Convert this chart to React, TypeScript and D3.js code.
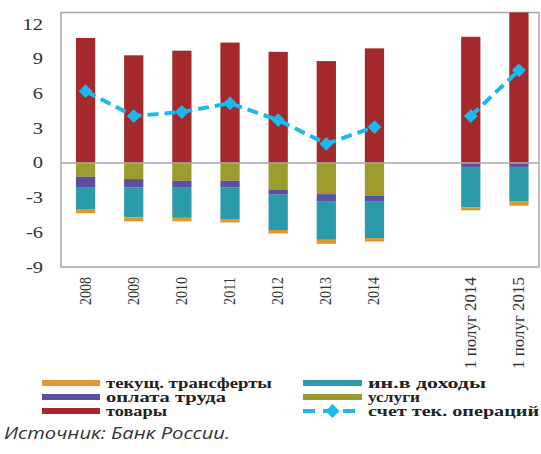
import React from "react";
import * as d3 from "d3";

const categories = ["2008", "2009", "2010", "2011", "2012", "2013", "2014", "", "1 полуг 2014", "1 полуг 2015"];
const goods = [10.8, 9.3, 9.7, 10.4, 9.6, 8.8, 9.9, 0, 10.9, 13.5];
const services = [-1.2, -1.4, -1.55, -1.55, -2.3, -2.7, -2.85, 0, 0, 0];
const labor = [-0.95, -0.7, -0.6, -0.55, -0.45, -0.6, -0.45, 0, -0.35, -0.35];
const invIncome = [-1.9, -2.6, -2.6, -2.75, -3.05, -3.35, -3.2, 0, -3.5, -2.95];
const transfers = [-0.3, -0.35, -0.3, -0.3, -0.3, -0.35, -0.3, 0, -0.25, -0.4];
const currentAccount: (number | null)[] = [6.2, 4.05, 4.4, 5.15, 3.7, 1.65, 3.1, null, 4.05, 8.0];
const yTicks = [12, 9, 6, 3, 0, -3, -6, -9];

const seriesKeys = ["goods", "services", "labor", "invIncome", "transfers"];
const colors: Record<string, string> = {
  goods: "#a3292b",
  services: "#9b9c2b",
  labor: "#5a4fa0",
  invIncome: "#2b9aab",
  transfers: "#e8942c",
};
const lineColor = "#1cb8ee";

const legendLeft = [
  { key: "transfers", label: "текущ. трансферты", len: 166 },
  { key: "labor", label: "оплата труда", len: 120 },
  { key: "goods", label: "товары", len: 61 },
];
const legendRight = [
  { key: "invIncome", label: "ин.в доходы", len: 118 },
  { key: "services", label: "услуги", len: 52 },
  { key: "line", label: "счет тек. операций", len: 171 },
];

export default function App() {
  const W = 541, H = 454;
  const plot = { left: 61, right: 539, top: 12.5, bottom: 267 };
  const x = d3.scaleBand<string>()
    .domain(categories.map((c, i) => c || "gap" + i))
    .range([61.5, 543])
    .paddingInner(0.6)
    .paddingOuter(0.3);
  const y = d3.scaleLinear().domain([-9, 13]).range([plot.bottom, plot.top]);

  const rows = categories.map((c, i) => ({
    cat: c || "gap" + i,
    goods: goods[i],
    services: services[i],
    labor: labor[i],
    invIncome: invIncome[i],
    transfers: transfers[i],
  }));
  const stack = d3.stack<any>().keys(seriesKeys).offset(d3.stackOffsetDiverging);
  const stacked = stack(rows);

  const line = d3.line<number | null>()
    .defined((d) => d !== null)
    .x((d, i) => (x(rows[i].cat) as number) + x.bandwidth() / 2)
    .y((d) => y(d as number));

  const marker = d3.symbol().type(d3.symbolSquare).size(95)();
  const serif = "'Liberation Serif', 'Times New Roman', serif";

  return (
    <svg width={W} height={H} style={{ position: "absolute", left: 0, top: 0, background: "#fff" }}>
      <defs>
        <clipPath id="plotClip">
          <rect x={plot.left} y={plot.top} width={plot.right - plot.left} height={plot.bottom - plot.top} />
        </clipPath>
      </defs>
      <rect x={plot.left} y={plot.top} width={plot.right - plot.left} height={plot.bottom - plot.top}
        fill="none" stroke="#a9a9a9" strokeWidth={1.5} />
      {yTicks.map((t) => (
        <text key={t} transform={`translate(43,${y(t)}) scale(1.28,1)`} dy="0.35em" textAnchor="end"
          fontFamily={serif} fontSize={16} fill="#333">
          {t}
        </text>
      ))}
      <g clipPath="url(#plotClip)">
        {stacked.map((s) => (
          <g key={s.key} fill={colors[s.key]}>
            {s.map((d, i) => {
              if (!categories[i]) return null;
              const y0 = y(d[0]), y1 = y(d[1]);
              const h = Math.abs(y0 - y1);
              if (h < 0.01) return null;
              return <rect key={i} x={x(rows[i].cat)} width={x.bandwidth()} y={Math.min(y0, y1)} height={h} />;
            })}
          </g>
        ))}
        <line x1={plot.left} x2={plot.right} y1={y(0)} y2={y(0)} stroke="#a9a9a9" strokeWidth={1.5} />
        <path d={line(currentAccount) || ""} fill="none" stroke={lineColor} strokeWidth={4} strokeDasharray="11,6" />
        {currentAccount.map((v, i) =>
          v === null ? null : (
            <path key={i} d={marker || ""} fill={lineColor}
              transform={`translate(${(x(rows[i].cat) as number) + x.bandwidth() / 2},${y(v)}) rotate(45)`} />
          )
        )}
      </g>
      {categories.map((c, i) =>
        c ? (
          <text key={i} transform={`translate(${(x(rows[i].cat) as number) + x.bandwidth() / 2 + 5},277) rotate(-90)`}
            textAnchor="end" fontFamily={serif} fontSize={16} fill="#333"
            textLength={c.length > 4 ? 92 : 28} lengthAdjust="spacingAndGlyphs">
            {c}
          </text>
        ) : null
      )}
      {legendLeft.map((l, i) => (
        <g key={l.key} transform={`translate(0,${383 + i * 14})`}>
          <rect x={42} y={-3} width={58} height={6} fill={colors[l.key]} />
          <text x={106} y={0} dy="0.35em" fontFamily={serif} fontSize={14} fontWeight="bold" fill="#222"
            textLength={l.len} lengthAdjust="spacingAndGlyphs">{l.label}</text>
        </g>
      ))}
      {legendRight.map((l, i) => (
        <g key={l.key} transform={`translate(0,${383 + i * 14})`}>
          {l.key === "line" ? (
            <g>
              <line x1={303} x2={362} y1={0} y2={0} stroke={lineColor} strokeWidth={4} strokeDasharray="12,8" />
              <path d={marker || ""} fill={lineColor} transform="translate(332.5,0) rotate(45)" />
            </g>
          ) : (
            <rect x={303} y={-3} width={59} height={6} fill={colors[l.key]} />
          )}
          <text x={368} y={0} dy="0.35em" fontFamily={serif} fontSize={14} fontWeight="bold" fill="#222"
            textLength={l.len} lengthAdjust="spacingAndGlyphs">{l.label}</text>
        </g>
      ))}
      <text x={4} y={439} fontFamily="'Open Sans', sans-serif" fontStyle="italic" fontSize={17} fill="#333"
        textLength={226} lengthAdjust="spacingAndGlyphs">
        Источник: Банк России.
      </text>
    </svg>
  );
}
